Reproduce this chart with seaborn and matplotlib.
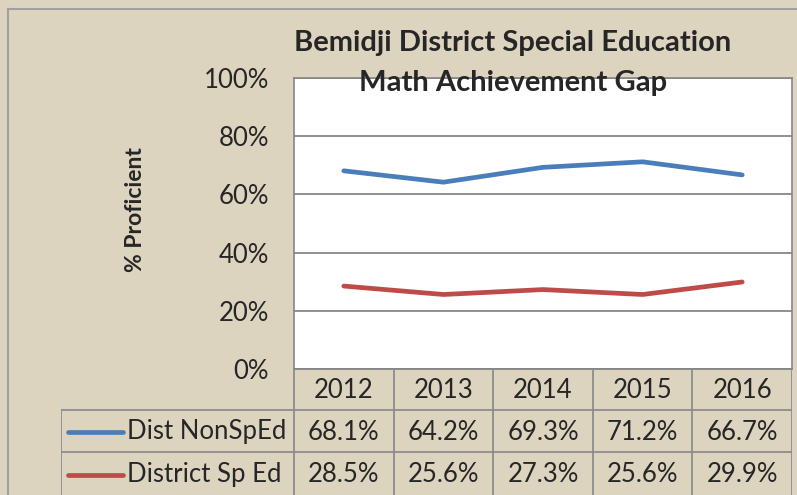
import numpy as np
import pandas as pd
import matplotlib.pyplot as plt
import seaborn as sns

# data
years = ['2012', '2013', '2014', '2015', '2016']
non_sped = [68.1, 64.2, 69.3, 71.2, 66.7]
sped = [28.5, 25.6, 27.3, 25.6, 29.9]
series_names = ['Dist NonSpEd', 'District Sp Ed']
colors = ['#4a7ebb', '#be4b48']

df = pd.DataFrame({
    'year': list(range(len(years))) * 2,
    'value': non_sped + sped,
    'series': [series_names[0]] * len(years) + [series_names[1]] * len(years),
})

sns.set_style('white')
plt.rcParams['font.family'] = ['Lato', 'DejaVu Sans']

W, H = 797, 495
bg = '#ddd4c0'
fig = plt.figure(figsize=(W / 100, H / 100), dpi=100, facecolor=bg)

# outer frame
fig.add_artist(plt.Line2D([8 / W, 8 / W], [0, 1 - 9 / H], color='#a0a0a0', lw=1.5))
fig.add_artist(plt.Line2D([8 / W, 1], [1 - 9 / H, 1 - 9 / H], color='#a0a0a0', lw=1.5))

left, right, top, bottom = 294, 792, 78, 369
ax = fig.add_axes([left / W, 1 - bottom / H, (right - left) / W, (bottom - top) / H])
ax.set_facecolor('white')

sns.lineplot(data=df, x='year', y='value', hue='series', palette=colors,
             lw=3.4, legend=False, ax=ax)

ax.set_xlim(-0.5, len(years) - 0.5)
ax.set_ylim(0, 100)
ax.set_yticks(range(0, 101, 20))
ax.set_yticklabels([f'{v}%' for v in range(0, 101, 20)], fontsize=18.5)
ax.set_xticks([])
ax.set_xlabel('')
ax.set_ylabel('')
ax.tick_params(axis='y', length=0, pad=18)
ax.yaxis.grid(True, color='#868686', lw=1.3)
for s in ax.spines.values():
    s.set_color('#868686')
    s.set_linewidth(1.2)

fig.text(136 / W, 1 - 210 / H, '% Proficient', rotation=90, ha='center',
         va='center', fontsize=16.5, fontweight='bold')
fig.text(513 / W, 1 - 43 / H, 'Bemidji District Special Education', ha='center',
         va='center', fontsize=21, fontweight='bold')
fig.text(513 / W, 1 - 83 / H, 'Math Achievement Gap', ha='center',
         va='center', fontsize=21, fontweight='bold', zorder=10)

# data table
tl = 61
unit = (right - left) / len(years)
x0 = -0.5 - (left - tl) / unit
tax = fig.add_axes([tl / W, 0, (right - tl) / W, (H - bottom) / H])
tax.set_xlim(x0, len(years) - 0.5)
tax.set_ylim(H - bottom, 0)
tax.axis('off')
gc = '#8c8c8c'
rows = [0, 41, 83, 126]
# horizontal lines
tax.plot([-0.5, len(years) - 0.5], [rows[0], rows[0]], color=gc, lw=1.3)
for r in rows[1:3]:
    tax.plot([x0, len(years) - 0.5], [r, r], color=gc, lw=1.3)
# vertical lines
for i in range(len(years) + 1):
    tax.plot([i - 0.5, i - 0.5], [0, 126], color=gc, lw=1.3)
tax.plot([x0, x0], [rows[1], 126], color=gc, lw=1.3)

fs = 18.5
for i, y in enumerate(years):
    tax.text(i, 21, y, ha='center', va='center', fontsize=fs)
for j, vals in enumerate([non_sped, sped]):
    yc = (rows[j + 1] + rows[j + 2]) / 2 + 1
    for i, v in enumerate(vals):
        tax.text(i, yc, f'{v:.1f}%', ha='center', va='center', fontsize=fs)
    tax.plot([x0 + 0.07, x0 + 0.62], [yc, yc], color=colors[j], lw=3.4,
             solid_capstyle='round')
    tax.text(x0 + 0.66, yc, series_names[j], ha='left', va='center', fontsize=fs)

fig.savefig('out.png', dpi=100, facecolor=bg)
